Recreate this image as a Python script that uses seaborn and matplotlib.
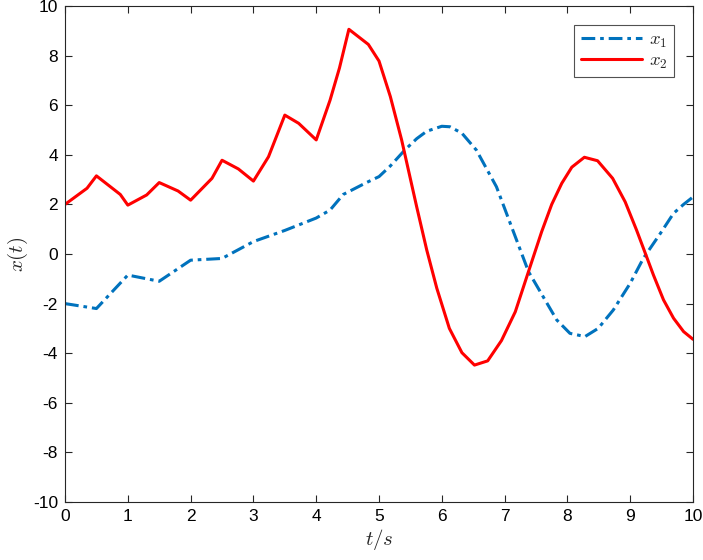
import matplotlib
matplotlib.use("Agg")
import matplotlib.pyplot as plt
import seaborn as sns
import pandas as pd

t1 = [0, 0.5, 1.0, 1.5, 2.0, 2.5, 3.0, 3.5, 4.0, 4.22, 4.43, 4.8, 5.0, 5.18, 5.41,
      5.6, 5.76, 6.0, 6.13, 6.32, 6.55, 6.87, 7.11, 7.38, 7.62, 7.83, 8.04, 8.28,
      8.49, 8.73, 9.0, 9.21, 9.48, 9.69, 9.85, 10.0]
x1 = [-2.0, -2.2, -0.85, -1.1, -0.25, -0.18, 0.5, 0.95, 1.45, 1.77, 2.4, 2.88, 3.12,
      3.55, 4.19, 4.65, 4.95, 5.15, 5.13, 4.87, 4.19, 2.71, 1.1, -0.71, -1.75, -2.66,
      -3.2, -3.33, -3.0, -2.26, -1.18, -0.17, 0.83, 1.64, 2.0, 2.3]

t2 = [0, 0.35, 0.5, 0.88, 1.0, 1.3, 1.5, 1.8, 2.0, 2.34, 2.5, 2.76, 3.0, 3.24, 3.5,
      3.72, 4.0, 4.22, 4.37, 4.52, 4.83, 5.0, 5.18, 5.36, 5.6, 5.76, 5.92, 6.12, 6.32,
      6.52, 6.73, 6.95, 7.17, 7.38, 7.59, 7.75, 7.91, 8.07, 8.27, 8.48, 8.72, 8.92,
      9.10, 9.24, 9.37, 9.53, 9.69, 9.85, 10.0]
x2 = [2.0, 2.65, 3.15, 2.4, 1.97, 2.38, 2.88, 2.54, 2.17, 3.05, 3.78, 3.43, 2.94, 3.92,
      5.6, 5.27, 4.6, 6.2, 7.5, 9.06, 8.45, 7.78, 6.35, 4.6, 1.9, 0.16, -1.38, -3.0,
      -3.98, -4.48, -4.31, -3.49, -2.33, -0.71, 0.9, 2.0, 2.85, 3.5, 3.9, 3.76, 3.05,
      2.1, 0.97, 0.03, -0.85, -1.85, -2.59, -3.13, -3.44]

labels = ["$x_1$", "$x_2$"]
xticks = list(range(0, 11))
yticks = list(range(-10, 11, 2))

sns.set_style("white")
plt.rcParams["font.family"] = ["Liberation Sans", "DejaVu Sans"]
plt.rcParams["mathtext.fontset"] = "cm"

fig = plt.figure(figsize=(7.03, 5.60), dpi=100)
ax = fig.add_axes([0.0925, 0.1036, 0.8933, 0.8857])

df1 = pd.DataFrame({"t": t1, "x": x1})
df2 = pd.DataFrame({"t": t2, "x": x2})
sns.lineplot(data=df1, x="t", y="x", ax=ax, color="#0072BD", lw=2.2,
             sort=False, estimator=None, label=labels[0], dashes=False)
sns.lineplot(data=df2, x="t", y="x", ax=ax, color="#FF0000", lw=2.2,
             sort=False, estimator=None, label=labels[1])
ax.lines[0].set_dashes([4.5, 1.6, 1.2, 1.6])

ax.set_xlim(0, 10)
ax.set_ylim(-10, 10)
ax.set_xticks(xticks)
ax.set_yticks(yticks)
ax.set_xticklabels([str(v) for v in xticks], fontsize=12.5)
ax.set_yticklabels([str(v) for v in yticks], fontsize=12.5)
ax.tick_params(direction="in", length=5, width=0.8, top=True, right=True,
               bottom=True, left=True, colors="#262626", labelcolor="black", pad=5)
for s in ax.spines.values():
    s.set_visible(True)
    s.set_color("#262626")
    s.set_linewidth(0.8)

ax.set_xlabel("$t/s$", fontsize=15, labelpad=2)
ax.set_ylabel("$x(t)$", fontsize=15, labelpad=2)

leg = ax.legend(loc="upper right", bbox_to_anchor=(0.970, 0.962), fontsize=13.5,
                frameon=True, fancybox=False, handlelength=3.3, borderpad=0.35,
                labelspacing=0.15, handletextpad=0.35, borderaxespad=0)
leg.get_frame().set_edgecolor("#262626")
leg.get_frame().set_linewidth(0.8)

fig.savefig("out.png", dpi=100)
